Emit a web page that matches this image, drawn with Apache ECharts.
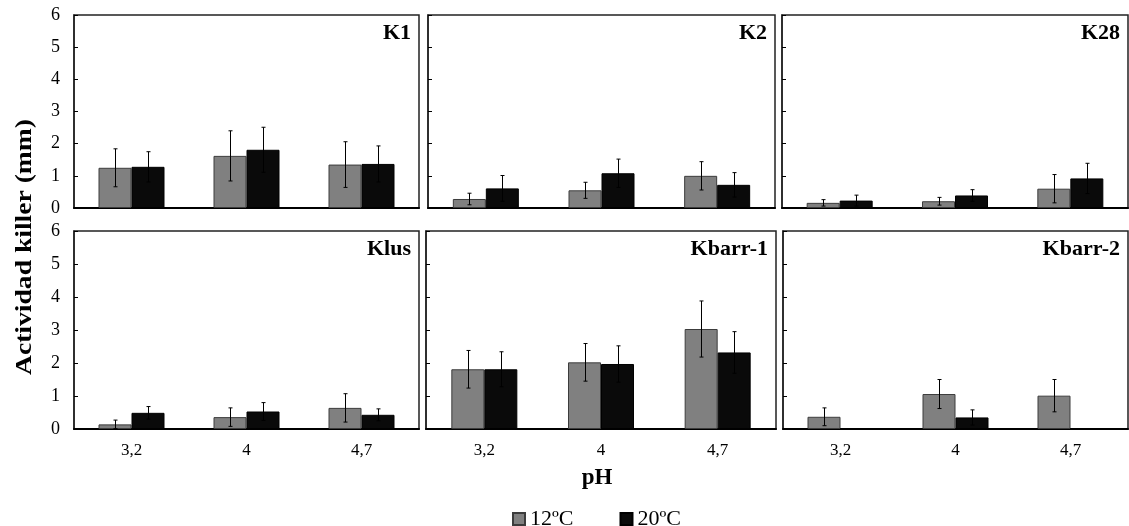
<!DOCTYPE html>
<html>
<head>
<meta charset="utf-8">
<script src="https://cdn.jsdelivr.net/npm/echarts@6/dist/echarts.min.js"></script>
<style>
  html, body { margin: 0; padding: 0; background: #fff; }
  #main { width: 1129px; height: 526px; }
</style>
</head>
<body>
<div id="main"></div>
<script>
var categories = ['3,2', '4', '4,7'];
var panelNames = ['K1', 'K2', 'K28', 'Klus', 'Kbarr-1', 'Kbarr-2'];
var yTicks = [0, 1, 2, 3, 4, 5, 6];

// medias y desviaciones (mm)
var mean12 = [[1.25, 1.62, 1.35], [0.28, 0.55, 1.00], [0.16, 0.21, 0.60],
              [0.14, 0.36, 0.64], [1.81, 2.02, 3.03], [0.37, 1.06, 1.01]];
var err12  = [[0.59, 0.78, 0.71], [0.18, 0.25, 0.44], [0.10, 0.12, 0.44],
              [0.13, 0.28, 0.43], [0.57, 0.57, 0.85], [0.27, 0.44, 0.49]];
var mean20 = [[1.28, 1.81, 1.37], [0.61, 1.08, 0.72], [0.23, 0.39, 0.92],
              [0.49, 0.53, 0.43], [1.81, 1.97, 2.32], [0, 0.35, 0]];
var err20  = [[0.47, 0.70, 0.56], [0.40, 0.44, 0.38], [0.17, 0.18, 0.47],
              [0.19, 0.27, 0.18], [0.53, 0.55, 0.63], [0, 0.23, 0]];

var FONT = "'Liberation Serif', 'Times New Roman', serif";
var BAR_W = 33;

// posiciones de los 6 paneles
var grids = [
    { left: 74, top: 15, width: 345, height: 193 },
    { left: 428, top: 15, width: 347, height: 193 },
    { left: 782, top: 15, width: 346, height: 193 },
    { left: 74, top: 231, width: 345, height: 198 },
    { left: 426, top: 231, width: 350, height: 198 },
    { left: 783, top: 231, width: 345, height: 198 }
];

function errRenderer(offset) {
    return function (params, api) {
        var i = api.value(0), v = api.value(1), e = api.value(2);
        if (!e) return null;
        var hi = api.coord([i, v + e]);
        var lo = api.coord([i, Math.max(v - e, 0)]);
        var x = Math.round(hi[0] + offset) + 0.5;
        var st = { stroke: '#000', lineWidth: 1 };
        return {
            type: 'group',
            children: [
                { type: 'line', shape: { x1: x, y1: hi[1], x2: x, y2: lo[1] }, style: st },
                { type: 'line', shape: { x1: x - 2, y1: hi[1], x2: x + 2, y2: hi[1] }, style: st },
                { type: 'line', shape: { x1: x - 2, y1: lo[1], x2: x + 2, y2: lo[1] }, style: st }
            ]
        };
    };
}

var grid = [], xAxis = [], yAxis = [], series = [], graphic = [];

grids.forEach(function (g, p) {
    var bottomRow = p >= 3;
    var firstCol = p % 3 === 0;
    grid.push({
        left: g.left, top: g.top, width: g.width, height: g.height,
        show: true, borderColor: '#222', borderWidth: 1.5
    });
    xAxis.push({
        type: 'category', gridIndex: p, data: categories,
        axisLine: { lineStyle: { color: '#000', width: 2 } },
        axisTick: { inside: true, length: 5, lineStyle: { color: '#333' } },
        axisLabel: { show: bottomRow, color: '#000', fontFamily: FONT, fontSize: 17, margin: 13 }
    });
    yAxis.push({
        type: 'value', gridIndex: p, min: 0, max: 6, interval: 1,
        axisLine: { show: true, lineStyle: { color: '#222', width: 1.5 } },
        axisTick: { show: true, inside: true, length: 4, lineStyle: { color: '#000' } },
        splitLine: { show: false },
        axisLabel: {
            show: firstCol, color: '#000', fontFamily: FONT, fontSize: 18, margin: 14,
            formatter: function (v) { return yTicks.indexOf(v) >= 0 ? String(v) : ''; }
        }
    });
    series.push({
        name: '12ºC', type: 'bar', xAxisIndex: p, yAxisIndex: p,
        barWidth: BAR_W, barGap: '0%',
        itemStyle: { color: '#808080', borderColor: '#3c3c3c', borderWidth: 1 },
        data: mean12[p]
    });
    series.push({
        name: '20ºC', type: 'bar', xAxisIndex: p, yAxisIndex: p,
        barWidth: BAR_W, barGap: '0%',
        itemStyle: { color: '#0a0a0a', borderColor: '#000', borderWidth: 1 },
        data: mean20[p]
    });
    series.push({
        type: 'custom', xAxisIndex: p, yAxisIndex: p, z: 5,
        renderItem: errRenderer(-BAR_W / 2),
        data: mean12[p].map(function (v, i) { return [i, v, err12[p][i]]; })
    });
    series.push({
        type: 'custom', xAxisIndex: p, yAxisIndex: p, z: 5,
        renderItem: errRenderer(BAR_W / 2),
        data: mean20[p].map(function (v, i) { return [i, v, err20[p][i]]; })
    });
    graphic.push({
        type: 'text', x: g.left + g.width - 8, y: g.top + 7, z: 10,
        style: { text: panelNames[p], font: 'bold 22px ' + FONT, fill: '#000', align: 'right', verticalAlign: 'top' }
    });
});

graphic.push({
    type: 'text', x: 25, y: 247, rotation: Math.PI / 2, scaleX: 1.15,
    style: { text: 'Actividad killer (mm)', font: 'bold 24px ' + FONT, fill: '#000', align: 'center', verticalAlign: 'middle' }
});
graphic.push({
    type: 'text', x: 597, y: 478,
    style: { text: 'pH', font: 'bold 23px ' + FONT, fill: '#000', align: 'center', verticalAlign: 'middle' }
});

var chart = echarts.init(document.getElementById('main'));
chart.setOption({
    animation: false,
    backgroundColor: '#fff',
    grid: grid,
    xAxis: xAxis,
    yAxis: yAxis,
    legend: {
        data: ['12ºC', '20ºC'],
        left: 507, top: 503,
        icon: 'rect', itemWidth: 12, itemHeight: 12, itemGap: 46,
        textStyle: { color: '#000', fontFamily: FONT, fontSize: 22 }
    },
    graphic: graphic,
    series: series
});
</script>
</body>
</html>
